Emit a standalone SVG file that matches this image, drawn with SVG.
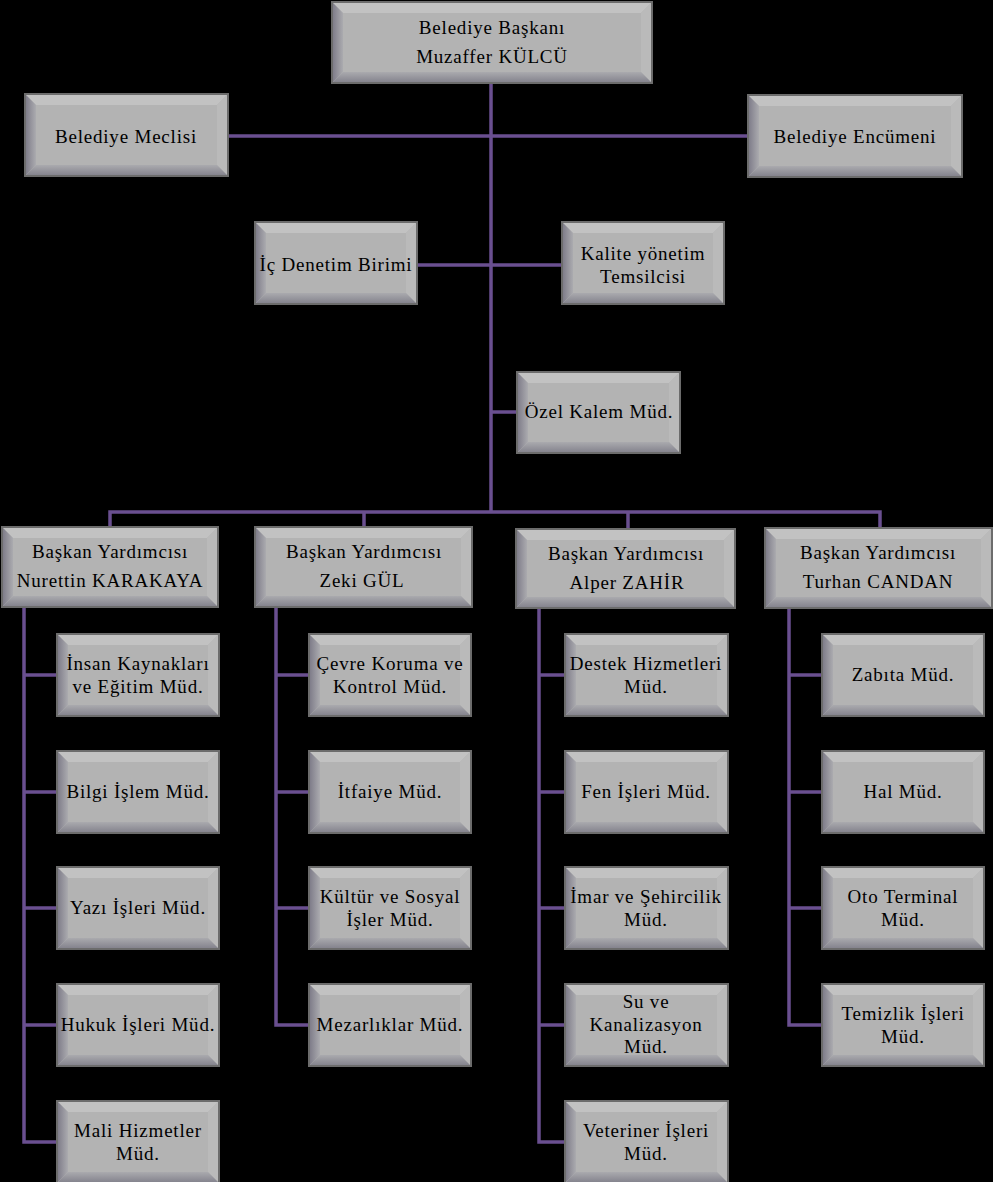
<svg xmlns="http://www.w3.org/2000/svg" width="993" height="1182" viewBox="0 0 993 1182">
<defs>
<linearGradient id="gl" x1="0" y1="0" x2="1" y2="0"><stop offset="0" stop-color="#7f7d8a"/><stop offset="1" stop-color="#ababaf"/></linearGradient>
<linearGradient id="gb" x1="0" y1="0" x2="0" y2="1"><stop offset="0" stop-color="#aaaaae"/><stop offset="1" stop-color="#85848e"/></linearGradient>
<style>
.face{fill:#b3b3b3;stroke:#6c6c6c;stroke-width:2}
.bt{fill:#c2c2c2}
.br{fill:#bababa}
.bl{fill:url(#gl)}
.bb{fill:url(#gb)}
text{font-family:"Liberation Serif","Times New Roman",serif;font-size:19px;letter-spacing:0.8px;fill:#000;text-anchor:middle}
.ln{stroke:#6a4f90;stroke-width:3.5;fill:none}
</style>
</defs>
<rect x="0" y="0" width="993" height="1182" fill="#000"/>
<g id="connectors">
<path class="ln" d="M491 83V512M228 136H748M417 265H562M491 412H517"/>
<path class="ln" d="M110 527V512H880V528M364 512V527M628 512V529"/>
<path class="ln" d="M24 607V1142H57M24 675H57M24 792H57M24 908H57M24 1025H57"/>
<path class="ln" d="M276 607V1025H309M276 675H309M276 792H309M276 908H309"/>
<path class="ln" d="M539 608V1142H565M539 675H565M539 792H565M539 908H565M539 1025H565"/>
<path class="ln" d="M789 608V1025H822M789 675H822M789 792H822M789 908H822"/>
</g>

<g id="baskan"><rect class="face" x="332" y="2" width="320" height="81"/><polygon class="bt" points="333,3 651,3 641,13 343,13"/><polygon class="br" points="651,3 651,82 641,72 641,13"/><polygon class="bl" points="333,3 343,13 343,72 333,82"/><polygon class="bb" points="333,82 343,72 641,72 651,82"/><text x="492" y="34">Belediye Başkanı</text><text x="492" y="63">Muzaffer KÜLCÜ</text></g>

<g id="meclis"><rect class="face" x="25" y="94" width="203" height="82"/><polygon class="bt" points="26,95 227,95 217,105 36,105"/><polygon class="br" points="227,95 227,175 217,165 217,105"/><polygon class="bl" points="26,95 36,105 36,165 26,175"/><polygon class="bb" points="26,175 36,165 217,165 227,175"/><text x="126" y="143">Belediye Meclisi</text></g>

<g id="encumen"><rect class="face" x="748" y="95" width="214" height="82"/><polygon class="bt" points="749,96 961,96 951,106 759,106"/><polygon class="br" points="961,96 961,176 951,166 951,106"/><polygon class="bl" points="749,96 759,106 759,166 749,176"/><polygon class="bb" points="749,176 759,166 951,166 961,176"/><text x="855" y="143">Belediye Encümeni</text></g>

<g id="icdenetim"><rect class="face" x="255" y="222" width="162" height="82"/><polygon class="bt" points="256,223 416,223 406,233 266,233"/><polygon class="br" points="416,223 416,303 406,293 406,233"/><polygon class="bl" points="256,223 266,233 266,293 256,303"/><polygon class="bb" points="256,303 266,293 406,293 416,303"/><text x="336" y="271">İç Denetim Birimi</text></g>

<g id="kalite"><rect class="face" x="562" y="222" width="162" height="82"/><polygon class="bt" points="563,223 723,223 713,233 573,233"/><polygon class="br" points="723,223 723,303 713,293 713,233"/><polygon class="bl" points="563,223 573,233 573,293 563,303"/><polygon class="bb" points="563,303 573,293 713,293 723,303"/><text x="643" y="260">Kalite yönetim</text><text x="643" y="283">Temsilcisi</text></g>

<g id="ozelkalem"><rect class="face" x="517" y="372" width="163" height="81"/><polygon class="bt" points="518,373 679,373 669,383 528,383"/><polygon class="br" points="679,373 679,452 669,442 669,383"/><polygon class="bl" points="518,373 528,383 528,442 518,452"/><polygon class="bb" points="518,452 528,442 669,442 679,452"/><text x="599" y="418">Özel Kalem Müd.</text></g>

<g id="vp1"><rect class="face" x="2" y="527" width="216" height="80"/><polygon class="bt" points="3,528 217,528 207,538 13,538"/><polygon class="br" points="217,528 217,606 207,596 207,538"/><polygon class="bl" points="3,528 13,538 13,596 3,606"/><polygon class="bb" points="3,606 13,596 207,596 217,606"/><text x="110" y="558">Başkan Yardımcısı</text><text x="110" y="587">Nurettin KARAKAYA</text></g>

<g id="vp2"><rect class="face" x="255" y="527" width="217" height="80"/><polygon class="bt" points="256,528 471,528 461,538 266,538"/><polygon class="br" points="471,528 471,606 461,596 461,538"/><polygon class="bl" points="256,528 266,538 266,596 256,606"/><polygon class="bb" points="256,606 266,596 461,596 471,606"/><text x="364" y="558">Başkan Yardımcısı</text><text x="362" y="587">Zeki GÜL</text></g>

<g id="vp3"><rect class="face" x="516" y="529" width="219" height="79"/><polygon class="bt" points="517,530 734,530 724,540 527,540"/><polygon class="br" points="734,530 734,607 724,597 724,540"/><polygon class="bl" points="517,530 527,540 527,597 517,607"/><polygon class="bb" points="517,607 527,597 724,597 734,607"/><text x="626" y="560">Başkan Yardımcısı</text><text x="627" y="589">Alper ZAHİR</text></g>

<g id="vp4"><rect class="face" x="765" y="528" width="227" height="80"/><polygon class="bt" points="766,529 991,529 981,539 776,539"/><polygon class="br" points="991,529 991,607 981,597 981,539"/><polygon class="bl" points="766,529 776,539 776,597 766,607"/><polygon class="bb" points="766,607 776,597 981,597 991,607"/><text x="878" y="559">Başkan Yardımcısı</text><text x="878" y="588">Turhan CANDAN</text></g>

<g id="c1r1"><rect class="face" x="57" y="634" width="162" height="82"/><polygon class="bt" points="58,635 218,635 208,645 68,645"/><polygon class="br" points="218,635 218,715 208,705 208,645"/><polygon class="bl" points="58,635 68,645 68,705 58,715"/><polygon class="bb" points="58,715 68,705 208,705 218,715"/><text x="138" y="670">İnsan Kaynakları</text><text x="138" y="693">ve Eğitim Müd.</text></g>
<g id="c1r2"><rect class="face" x="57" y="751" width="162" height="82"/><polygon class="bt" points="58,752 218,752 208,762 68,762"/><polygon class="br" points="218,752 218,832 208,822 208,762"/><polygon class="bl" points="58,752 68,762 68,822 58,832"/><polygon class="bb" points="58,832 68,822 208,822 218,832"/><text x="138" y="798">Bilgi İşlem Müd.</text></g>
<g id="c1r3"><rect class="face" x="57" y="867" width="162" height="82"/><polygon class="bt" points="58,868 218,868 208,878 68,878"/><polygon class="br" points="218,868 218,948 208,938 208,878"/><polygon class="bl" points="58,868 68,878 68,938 58,948"/><polygon class="bb" points="58,948 68,938 208,938 218,948"/><text x="138" y="914">Yazı İşleri Müd.</text></g>
<g id="c1r4"><rect class="face" x="57" y="984" width="162" height="82"/><polygon class="bt" points="58,985 218,985 208,995 68,995"/><polygon class="br" points="218,985 218,1065 208,1055 208,995"/><polygon class="bl" points="58,985 68,995 68,1055 58,1065"/><polygon class="bb" points="58,1065 68,1055 208,1055 218,1065"/><text x="138" y="1031">Hukuk İşleri Müd.</text></g>
<g id="c1r5"><rect class="face" x="57" y="1101" width="162" height="82"/><polygon class="bt" points="58,1102 218,1102 208,1112 68,1112"/><polygon class="br" points="218,1102 218,1182 208,1172 208,1112"/><polygon class="bl" points="58,1102 68,1112 68,1172 58,1182"/><polygon class="bb" points="58,1182 68,1172 208,1172 218,1182"/><text x="138" y="1137">Mali Hizmetler</text><text x="138" y="1160">Müd.</text></g>

<g id="c2r1"><rect class="face" x="309" y="634" width="162" height="82"/><polygon class="bt" points="310,635 470,635 460,645 320,645"/><polygon class="br" points="470,635 470,715 460,705 460,645"/><polygon class="bl" points="310,635 320,645 320,705 310,715"/><polygon class="bb" points="310,715 320,705 460,705 470,715"/><text x="390" y="670">Çevre Koruma ve</text><text x="390" y="693">Kontrol Müd.</text></g>
<g id="c2r2"><rect class="face" x="309" y="751" width="162" height="82"/><polygon class="bt" points="310,752 470,752 460,762 320,762"/><polygon class="br" points="470,752 470,832 460,822 460,762"/><polygon class="bl" points="310,752 320,762 320,822 310,832"/><polygon class="bb" points="310,832 320,822 460,822 470,832"/><text x="390" y="798">İtfaiye Müd.</text></g>
<g id="c2r3"><rect class="face" x="309" y="867" width="162" height="82"/><polygon class="bt" points="310,868 470,868 460,878 320,878"/><polygon class="br" points="470,868 470,948 460,938 460,878"/><polygon class="bl" points="310,868 320,878 320,938 310,948"/><polygon class="bb" points="310,948 320,938 460,938 470,948"/><text x="390" y="903">Kültür ve Sosyal</text><text x="390" y="926">İşler Müd.</text></g>
<g id="c2r4"><rect class="face" x="309" y="984" width="162" height="82"/><polygon class="bt" points="310,985 470,985 460,995 320,995"/><polygon class="br" points="470,985 470,1065 460,1055 460,995"/><polygon class="bl" points="310,985 320,995 320,1055 310,1065"/><polygon class="bb" points="310,1065 320,1055 460,1055 470,1065"/><text x="390" y="1031">Mezarlıklar Müd.</text></g>

<g id="c3r1"><rect class="face" x="565" y="634" width="163" height="82"/><polygon class="bt" points="566,635 727,635 717,645 576,645"/><polygon class="br" points="727,635 727,715 717,705 717,645"/><polygon class="bl" points="566,635 576,645 576,705 566,715"/><polygon class="bb" points="566,715 576,705 717,705 727,715"/><text x="646" y="670">Destek Hizmetleri</text><text x="646" y="693">Müd.</text></g>
<g id="c3r2"><rect class="face" x="565" y="751" width="163" height="82"/><polygon class="bt" points="566,752 727,752 717,762 576,762"/><polygon class="br" points="727,752 727,832 717,822 717,762"/><polygon class="bl" points="566,752 576,762 576,822 566,832"/><polygon class="bb" points="566,832 576,822 717,822 727,832"/><text x="646" y="798">Fen İşleri Müd.</text></g>
<g id="c3r3"><rect class="face" x="565" y="867" width="163" height="82"/><polygon class="bt" points="566,868 727,868 717,878 576,878"/><polygon class="br" points="727,868 727,948 717,938 717,878"/><polygon class="bl" points="566,868 576,878 576,938 566,948"/><polygon class="bb" points="566,948 576,938 717,938 727,948"/><text x="646" y="903">İmar ve Şehircilik</text><text x="646" y="926">Müd.</text></g>
<g id="c3r4"><rect class="face" x="565" y="984" width="163" height="82"/><polygon class="bt" points="566,985 727,985 717,995 576,995"/><polygon class="br" points="727,985 727,1065 717,1055 717,995"/><polygon class="bl" points="566,985 576,995 576,1055 566,1065"/><polygon class="bb" points="566,1065 576,1055 717,1055 727,1065"/><text x="646" y="1008">Su ve</text><text x="646" y="1031">Kanalizasyon</text><text x="646" y="1053">Müd.</text></g>
<g id="c3r5"><rect class="face" x="565" y="1101" width="163" height="82"/><polygon class="bt" points="566,1102 727,1102 717,1112 576,1112"/><polygon class="br" points="727,1102 727,1182 717,1172 717,1112"/><polygon class="bl" points="566,1102 576,1112 576,1172 566,1182"/><polygon class="bb" points="566,1182 576,1172 717,1172 727,1182"/><text x="646" y="1137">Veteriner İşleri</text><text x="646" y="1160">Müd.</text></g>

<g id="c4r1"><rect class="face" x="822" y="634" width="162" height="82"/><polygon class="bt" points="823,635 983,635 973,645 833,645"/><polygon class="br" points="983,635 983,715 973,705 973,645"/><polygon class="bl" points="823,635 833,645 833,705 823,715"/><polygon class="bb" points="823,715 833,705 973,705 983,715"/><text x="903" y="681">Zabıta Müd.</text></g>
<g id="c4r2"><rect class="face" x="822" y="751" width="162" height="82"/><polygon class="bt" points="823,752 983,752 973,762 833,762"/><polygon class="br" points="983,752 983,832 973,822 973,762"/><polygon class="bl" points="823,752 833,762 833,822 823,832"/><polygon class="bb" points="823,832 833,822 973,822 983,832"/><text x="903" y="798">Hal Müd.</text></g>
<g id="c4r3"><rect class="face" x="822" y="867" width="162" height="82"/><polygon class="bt" points="823,868 983,868 973,878 833,878"/><polygon class="br" points="983,868 983,948 973,938 973,878"/><polygon class="bl" points="823,868 833,878 833,938 823,948"/><polygon class="bb" points="823,948 833,938 973,938 983,948"/><text x="903" y="903">Oto Terminal</text><text x="903" y="926">Müd.</text></g>
<g id="c4r4"><rect class="face" x="822" y="984" width="162" height="82"/><polygon class="bt" points="823,985 983,985 973,995 833,995"/><polygon class="br" points="983,985 983,1065 973,1055 973,995"/><polygon class="bl" points="823,985 833,995 833,1055 823,1065"/><polygon class="bb" points="823,1065 833,1055 973,1055 983,1065"/><text x="903" y="1020">Temizlik İşleri</text><text x="903" y="1043">Müd.</text></g>
</svg>
